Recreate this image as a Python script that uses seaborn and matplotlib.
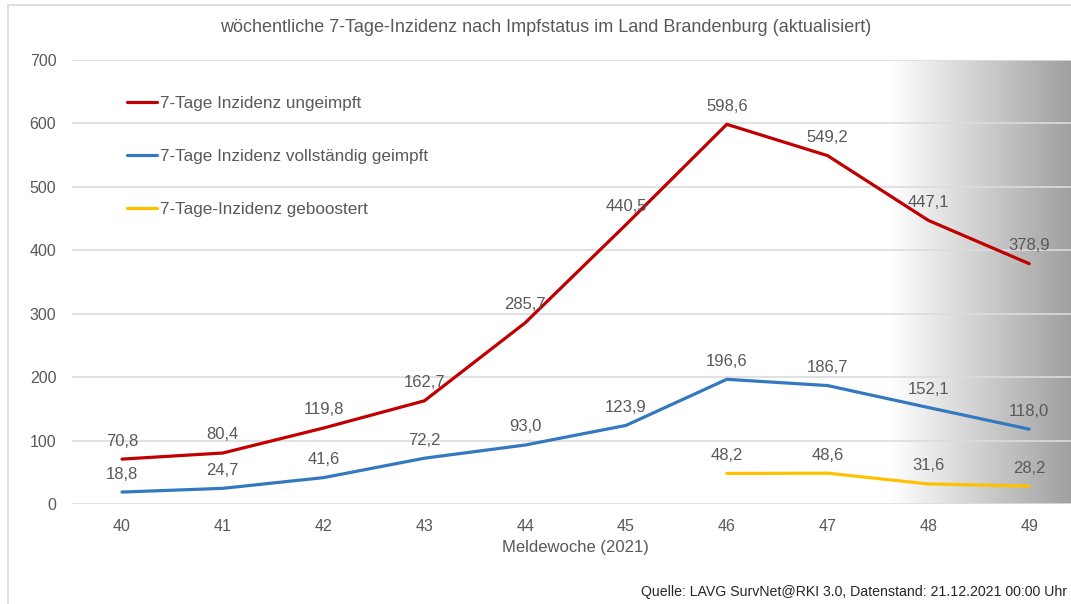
import numpy as np
import pandas as pd
import matplotlib
matplotlib.use("Agg")
import matplotlib.pyplot as plt
import seaborn as sns
from matplotlib.patches import Rectangle
from matplotlib.colors import LinearSegmentedColormap

weeks = [40, 41, 42, 43, 44, 45, 46, 47, 48, 49]
ungeimpft = [70.8, 80.4, 119.8, 162.7, 285.7, 440.5, 598.6, 549.2, 447.1, 378.9]
geimpft = [18.8, 24.7, 41.6, 72.2, 93.0, 123.9, 196.6, 186.7, 152.1, 118.0]
booster_weeks = [46, 47, 48, 49]
geboostert = [48.2, 48.6, 31.6, 28.2]

labels = ["7-Tage Inzidenz ungeimpft",
          "7-Tage Inzidenz vollständig geimpft",
          "7-Tage-Inzidenz geboostert"]
colors = ["#C00000", "#3478C0", "#FFC000"]
title = "wöchentliche 7-Tage-Inzidenz nach Impfstatus im Land Brandenburg (aktualisiert)"
xlabel = "Meldewoche (2021)"
source = "Quelle: LAVG SurvNet@RKI 3.0, Datenstand: 21.12.2021 00:00 Uhr"
yticks = [0, 100, 200, 300, 400, 500, 600, 700]

df = pd.concat([
    pd.DataFrame({"week": weeks, "value": ungeimpft, "serie": labels[0]}),
    pd.DataFrame({"week": weeks, "value": geimpft, "serie": labels[1]}),
    pd.DataFrame({"week": booster_weeks, "value": geboostert, "serie": labels[2]}),
])

sns.set_theme(style="white")
plt.rcParams["font.family"] = ["Liberation Sans", "DejaVu Sans"]
TXT = "#595959"

W, H = 1071, 604
fig = plt.figure(figsize=(W / 100, H / 100), dpi=100)
fig.patch.set_facecolor("white")

left_px, right_px, top_px, bottom_px = 71.6, 1071, 60, 504
ax = fig.add_axes([left_px / W, 1 - bottom_px / H, (right_px - left_px) / W, (bottom_px - top_px) / H])
ax.set_facecolor("white")

x_of_40 = 122
step = 100.8
xmax = 40 + (right_px - x_of_40) / step

# gradient on the right
g0 = 40 + (890 - x_of_40) / step
grad = np.linspace(0, 1, 256)[None, :]
cmap = LinearSegmentedColormap.from_list("g", ["#ffffff", "#a0a0a0"])
ax.imshow(grad, extent=[g0, xmax, 0, 700], aspect="auto", cmap=cmap, zorder=0, interpolation="bicubic")
ax.set_xlim(39.5, xmax)
ax.set_ylim(0, 700)

ax.set_axisbelow(True)
ax.yaxis.grid(True, color="#dcdcdc", linewidth=1.2)
ax.xaxis.grid(False)
for s in ax.spines.values():
    s.set_visible(False)

sns.lineplot(data=df, x="week", y="value", hue="serie", hue_order=labels,
             palette=colors, linewidth=2.3, ax=ax, legend=True, zorder=3)

# data labels
for xs, ys in [(weeks, ungeimpft), (weeks, geimpft), (booster_weeks, geboostert)]:
    for xv, yv in zip(xs, ys):
        ax.annotate(f"{yv:.1f}".replace(".", ","), (xv, yv), xytext=(0, 13),
                    textcoords="offset points", ha="center", va="center",
                    fontsize=12, color=TXT, zorder=4)

ax.set_xticks(weeks)
ax.set_xticklabels([str(w) for w in weeks])
ax.set_yticks(yticks)
ax.tick_params(axis="both", length=0, labelsize=11.5, labelcolor=TXT)
ax.tick_params(axis="x", pad=11)
ax.tick_params(axis="y", pad=11)
ax.set_xlabel("")
ax.set_ylabel("")
ax.text(44.5, -69, xlabel, ha="center", va="center", fontsize=12, color=TXT)

leg = ax.legend(loc="upper left",
                bbox_to_anchor=((127 - left_px) / (right_px - left_px), 1 - (96 - top_px) / (bottom_px - top_px)),
                frameon=False, fontsize=12.3, handlelength=1.75, handletextpad=0.18,
                labelspacing=2.23, borderaxespad=0, borderpad=0)
for t in leg.get_texts():
    t.set_color(TXT)

fig.text(546 / W, 1 - 27 / H, title, ha="center", va="center", fontsize=13, color=TXT)
fig.text(1067 / W, 1 - 592 / H, source, ha="right", va="center", fontsize=10.2, color="#262626")

fig.add_artist(Rectangle((8 / W, -0.1), 1.2, 1 - 5 / H + 0.1, transform=fig.transFigure,
                         fill=False, edgecolor="#d9d9d9", linewidth=1.2))

fig.savefig("out.png", dpi=100)
